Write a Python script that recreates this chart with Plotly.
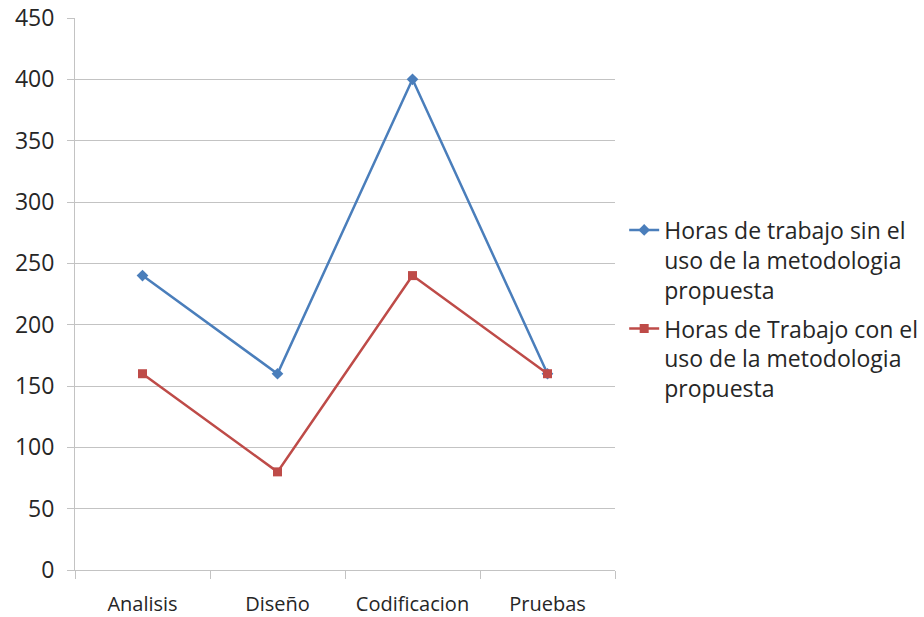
import plotly.graph_objects as go

categories = ["Analisis", "Diseño", "Codificacion", "Pruebas"]
sin_metodologia = [240, 160, 400, 160]
con_metodologia = [160, 80, 240, 160]
series_names = [
    "Horas de trabajo sin el<br>uso de la metodologia<br>propuesta",
    "Horas de Trabajo con el<br>uso de la metodologia<br>propuesta",
]

FONT = "Open Sans, Noto Sans, sans-serif"
TXT = "#262626"
GRID = "#c3c3c3"

fig = go.Figure()
fig.add_trace(go.Scatter(
    x=categories, y=sin_metodologia, name=series_names[0], mode="lines+markers",
    legendgroup="a",
    line=dict(color="#4a7ebb", width=2.5),
    marker=dict(symbol="diamond", size=9, color="#4a7ebb"),
))
fig.add_trace(go.Scatter(
    x=categories, y=con_metodologia, name=series_names[1], mode="lines+markers",
    legendgroup="b",
    line=dict(color="#be4b48", width=2.5),
    marker=dict(symbol="square", size=9, color="#be4b48"),
))

fig.update_layout(
    width=924, height=617,
    margin=dict(l=75, r=309, t=18, b=47, autoexpand=False),
    paper_bgcolor="white", plot_bgcolor="white",
    font=dict(family=FONT, size=20, color=TXT),
    showlegend=True,
    legend=dict(x=1.017, xanchor="left", y=0.655, yanchor="top",
                font=dict(size=23, color=TXT), tracegroupgap=6,
                valign="top", bgcolor="rgba(0,0,0,0)"),
    xaxis=dict(
        type="category", range=[-0.5, 3.5], tickson="boundaries",
        ticks="outside", ticklen=8, tickcolor=GRID, tickwidth=1,
        showline=True, linecolor=GRID, linewidth=1, showgrid=False,
        tickfont=dict(size=20, color=TXT), zeroline=False,
        automargin=False, ticklabelstandoff=16, ticklabeloverflow="allow",
    ),
    yaxis=dict(
        range=[0, 450], dtick=50, tick0=0,
        ticks="outside", ticklen=7, tickcolor=GRID, tickwidth=1,
        showline=True, linecolor=GRID, linewidth=1,
        showgrid=True, gridcolor=GRID, gridwidth=1,
        zeroline=False, tickfont=dict(size=23, color=TXT),
        automargin=False, ticklabelstandoff=8, ticklabeloverflow="allow",
    ),
)

# remove the default 8px page margin so the 924x617 figure fills the window
fig.write_html("out.html", config={"displayModeBar": False},
               post_script="document.body.style.margin='0';")
